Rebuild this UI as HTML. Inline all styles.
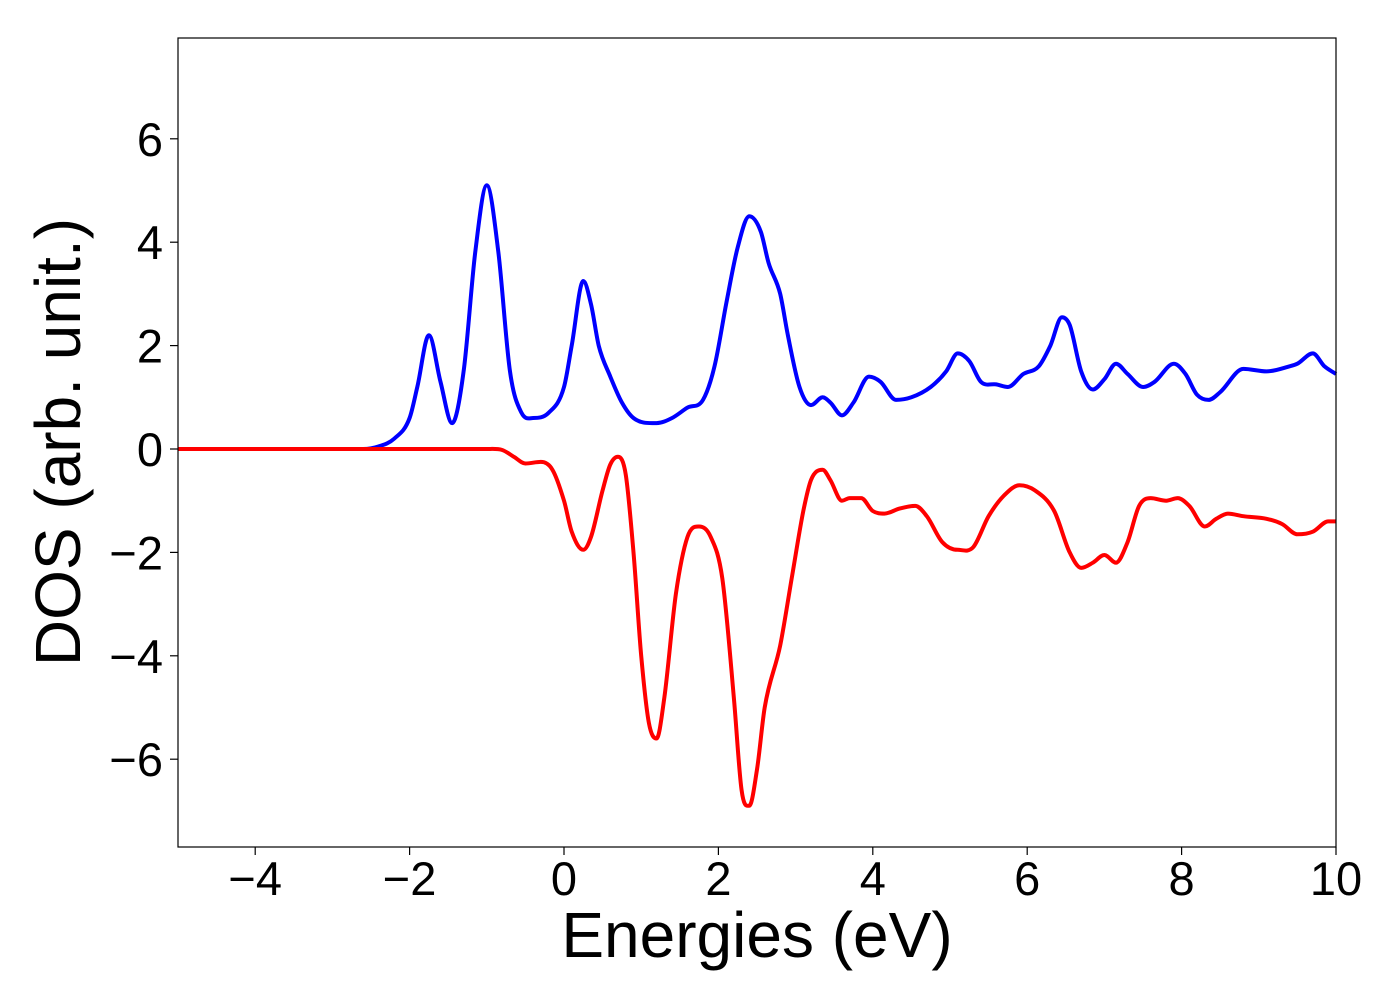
<!DOCTYPE html>
<html><head><meta charset="utf-8"><style>
html,body{margin:0;padding:0;background:#fff;}
svg{display:block;font-family:"Liberation Sans","DejaVu Sans",sans-serif;}
</style></head><body>
<svg id="chart" width="1400" height="1000" viewBox="0 0 1400 1000" xmlns="http://www.w3.org/2000/svg">
<rect x="0" y="0" width="1400" height="1000" fill="#fff"/>
<g id="series"></g>
<rect x="178" y="38" width="1158" height="809" fill="none" stroke="#000" stroke-width="1.2"/>
<g id="xticks"></g>
<g id="yticks"></g>
<text x="757" y="957" font-size="64" text-anchor="middle">Energies (eV)</text>
<text transform="translate(80,442) rotate(-90)" font-size="64" text-anchor="middle">DOS (arb. unit.)</text>
</svg>
<script>
const xTicks=[-4,-2,0,2,4,6,8,10];
const yTicks=[-6,-4,-2,0,2,4,6];
const upE=[-5,-4,-3,-2.8,-2.6,-2.4,-2.2,-2.0,-1.9,-1.75,-1.6,-1.45,-1.3,-1.15,-1.0,-0.85,-0.7,-0.55,-0.4,-0.2,0,0.1,0.25,0.35,0.45,0.6,0.75,0.9,1.2,1.4,1.6,1.8,1.95,2.1,2.25,2.4,2.55,2.65,2.8,2.9,3.05,3.2,3.35,3.45,3.6,3.75,3.95,4.1,4.3,4.5,4.75,4.95,5.1,5.25,5.4,5.6,5.75,5.95,6.15,6.3,6.45,6.55,6.7,6.85,7.0,7.15,7.3,7.5,7.65,7.9,8.05,8.2,8.35,8.5,8.8,9.1,9.4,9.5,9.7,9.85,10];
const upDOS=[0,0,0,0,0,0.05,0.2,0.6,1.2,2.2,1.3,0.5,1.5,3.8,5.1,3.8,1.5,0.7,0.6,0.7,1.2,2.0,3.25,2.8,2.0,1.4,0.9,0.6,0.5,0.6,0.8,0.95,1.6,2.8,3.9,4.5,4.2,3.6,3.0,2.2,1.2,0.85,1.0,0.9,0.65,0.9,1.4,1.3,0.95,1.0,1.2,1.5,1.85,1.7,1.3,1.25,1.2,1.45,1.6,2.0,2.55,2.4,1.5,1.15,1.35,1.65,1.45,1.2,1.3,1.65,1.45,1.05,0.95,1.1,1.55,1.5,1.6,1.65,1.85,1.6,1.45];
const dnE=[-5,-4,-3,-2,-1.5,-1.2,-1.0,-0.8,-0.65,-0.5,-0.3,-0.15,0,0.1,0.25,0.35,0.5,0.6,0.7,0.8,0.9,1.0,1.1,1.2,1.3,1.45,1.6,1.75,1.9,2.05,2.2,2.3,2.4,2.5,2.6,2.8,2.95,3.1,3.2,3.35,3.45,3.6,3.7,3.85,4.0,4.15,4.35,4.55,4.7,4.9,5.1,5.3,5.5,5.7,5.9,6.1,6.35,6.55,6.7,6.85,7.0,7.15,7.3,7.45,7.6,7.8,7.95,8.1,8.3,8.45,8.6,8.8,9.1,9.3,9.5,9.7,9.9,10];
const dnDOS=[0,0,0,0,0,0,0,-0.02,-0.15,-0.28,-0.25,-0.4,-1.0,-1.6,-1.95,-1.7,-0.8,-0.3,-0.15,-0.5,-2.0,-4.0,-5.3,-5.6,-4.8,-2.8,-1.7,-1.5,-1.7,-2.5,-4.8,-6.6,-6.9,-6.2,-5.0,-3.8,-2.5,-1.2,-0.6,-0.4,-0.6,-1.0,-0.95,-0.95,-1.2,-1.25,-1.15,-1.1,-1.3,-1.8,-1.95,-1.9,-1.3,-0.9,-0.7,-0.8,-1.2,-2.0,-2.3,-2.2,-2.05,-2.2,-1.8,-1.1,-0.95,-1.0,-0.95,-1.1,-1.5,-1.35,-1.25,-1.3,-1.35,-1.45,-1.65,-1.6,-1.4,-1.4];

const X0=178,X1=1336,XMIN=-5,XMAX=10;
const YZ=449,YS=51.7;
function sx(v){return X0+(v-XMIN)/(XMAX-XMIN)*(X1-X0);}
function sy(v){return YZ-v*YS;}
const NS="http://www.w3.org/2000/svg";
function pathFrom(xs,ys){
  const n=xs.length,m=[];
  for(let i=0;i<n;i++){
    if(i===0) m.push((ys[1]-ys[0])/(xs[1]-xs[0]));
    else if(i===n-1) m.push((ys[n-1]-ys[n-2])/(xs[n-1]-xs[n-2]));
    else {
      const a=(ys[i]-ys[i-1])/(xs[i]-xs[i-1]),b=(ys[i+1]-ys[i])/(xs[i+1]-xs[i]);
      m.push(a*b<=0?0:(a+b)/2);
    }
  }
  let d="M"+sx(xs[0]).toFixed(1)+","+sy(ys[0]).toFixed(1);
  for(let i=0;i<n-1;i++){
    const h=xs[i+1]-xs[i];
    const c1x=xs[i]+h/3,c1y=ys[i]+m[i]*h/3;
    const c2x=xs[i+1]-h/3,c2y=ys[i+1]-m[i+1]*h/3;
    d+=" C"+sx(c1x).toFixed(1)+","+sy(c1y).toFixed(1)+" "+sx(c2x).toFixed(1)+","+sy(c2y).toFixed(1)+" "+sx(xs[i+1]).toFixed(1)+","+sy(ys[i+1]).toFixed(1);
  }
  return d;
}
const g=document.getElementById("series");
const up=document.createElementNS(NS,"path");


up.setAttribute("d",pathFrom(upE,upDOS));
up.setAttribute("fill","none");up.setAttribute("stroke","#0000ff");up.setAttribute("stroke-width","4");up.setAttribute("stroke-linejoin","round");
g.appendChild(up);
const dn=document.createElementNS(NS,"path");


dn.setAttribute("d",pathFrom(dnE,dnDOS));
dn.setAttribute("fill","none");dn.setAttribute("stroke","#ff0000");dn.setAttribute("stroke-width","4");dn.setAttribute("stroke-linejoin","round");
g.appendChild(dn);

const xg=document.getElementById("xticks");
xTicks.forEach(v=>{
  const x=sx(v);
  const l=document.createElementNS(NS,"line");
  
  
  l.setAttribute("x1",x);l.setAttribute("x2",x);l.setAttribute("y1",847);l.setAttribute("y2",855);
  l.setAttribute("stroke","#000");l.setAttribute("stroke-width","1.2");xg.appendChild(l);
  const t=document.createElementNS(NS,"text");
  
  
  t.setAttribute("x",x);t.setAttribute("y",895);t.setAttribute("font-size","47");t.setAttribute("text-anchor","middle");
  t.textContent=(v<0?"\u2212":"")+Math.abs(v);xg.appendChild(t);
});
const yg=document.getElementById("yticks");
yTicks.forEach(v=>{
  const y=sy(v);
  const l=document.createElementNS(NS,"line");
  
  
  l.setAttribute("x1",170);l.setAttribute("x2",178);l.setAttribute("y1",y);l.setAttribute("y2",y);
  l.setAttribute("stroke","#000");l.setAttribute("stroke-width","1.2");yg.appendChild(l);
  const t=document.createElementNS(NS,"text");
  
  
  t.setAttribute("x",163);t.setAttribute("y",y+17);t.setAttribute("font-size","47");t.setAttribute("text-anchor","end");
  t.textContent=(v<0?"\u2212":"")+Math.abs(v);yg.appendChild(t);
});
</script>
</body></html>
